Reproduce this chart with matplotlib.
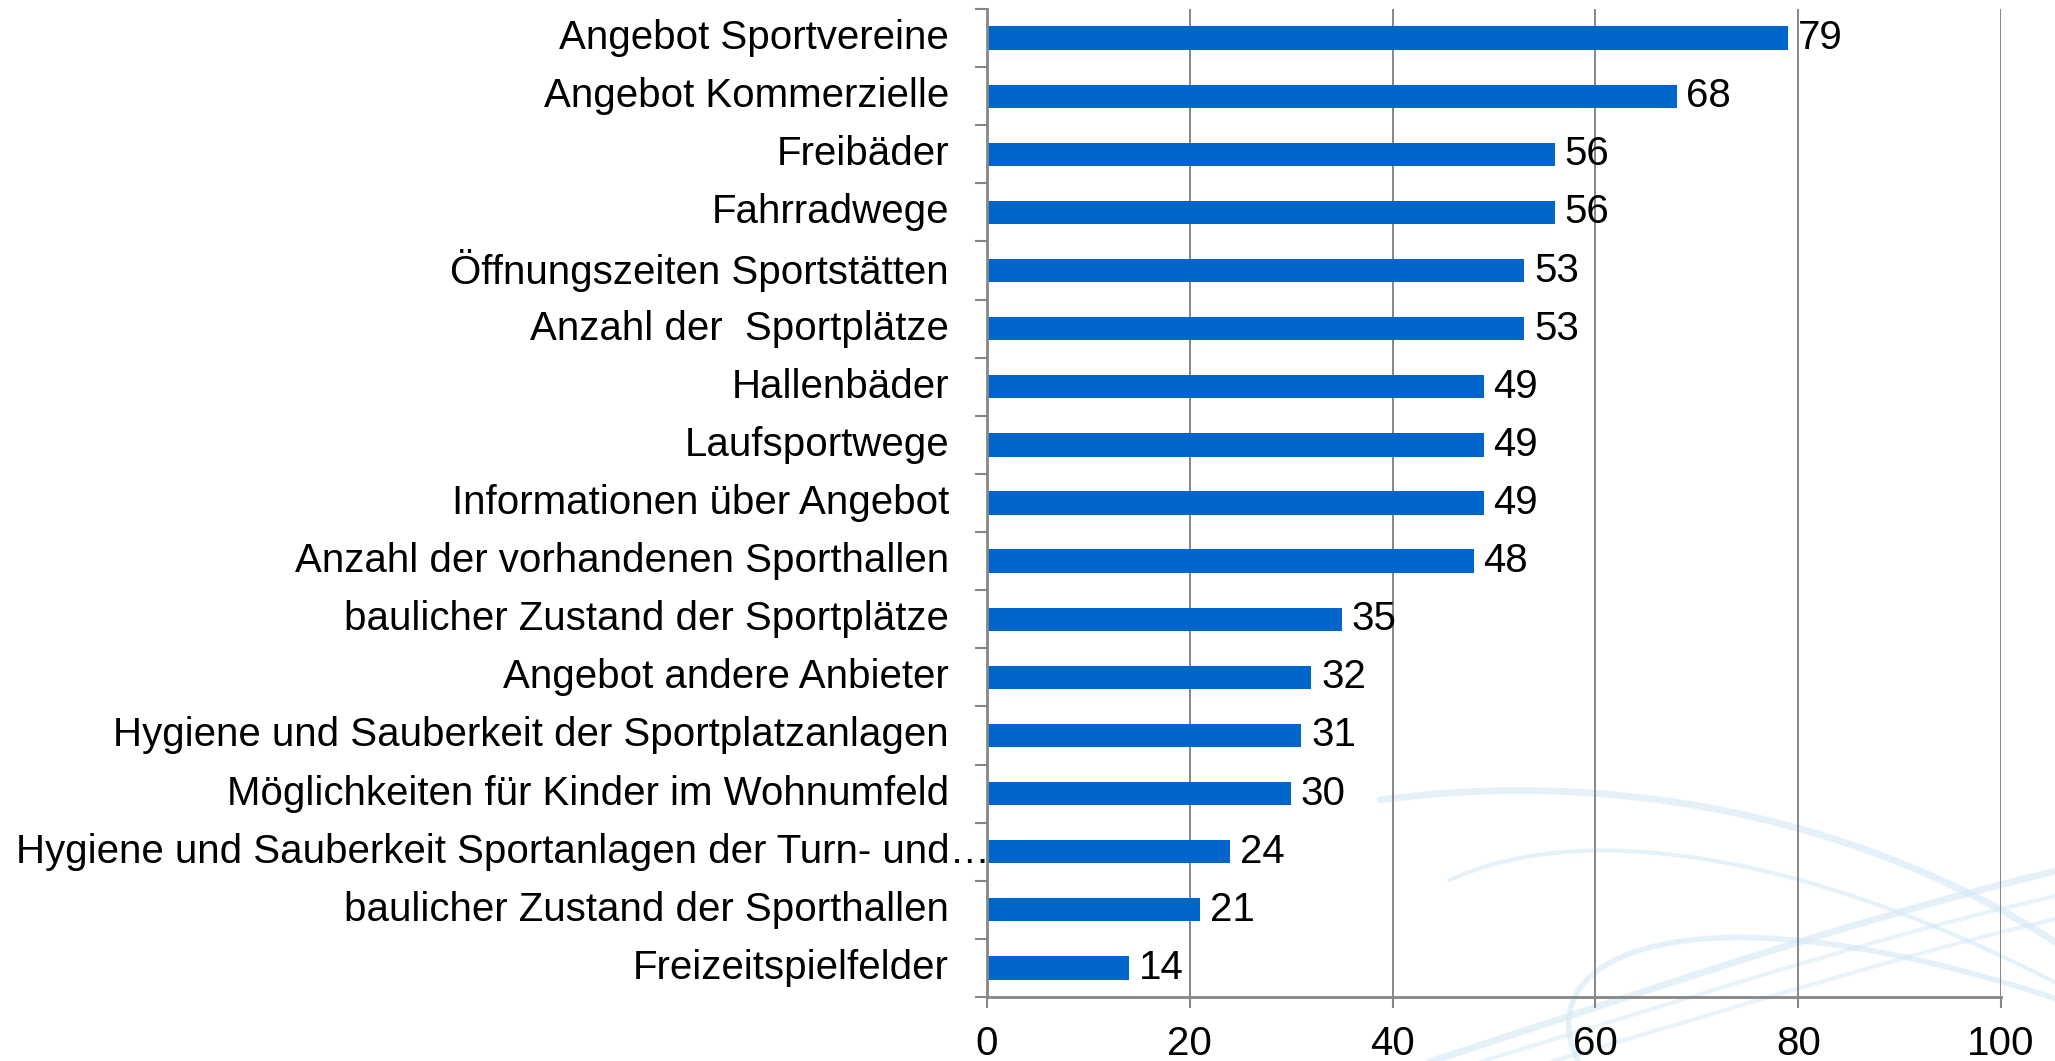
import numpy as np
import matplotlib.pyplot as plt
from matplotlib.ticker import FixedLocator

plt.rcParams['font.family'] = ['Liberation Sans', 'DejaVu Sans']

# Daten
kategorien = [
    "Angebot Sportvereine",
    "Angebot Kommerzielle",
    "Freibäder",
    "Fahrradwege",
    "Öffnungszeiten Sportstätten",
    "Anzahl der  Sportplätze",
    "Hallenbäder",
    "Laufsportwege",
    "Informationen über Angebot",
    "Anzahl der vorhandenen Sporthallen",
    "baulicher Zustand der Sportplätze",
    "Angebot andere Anbieter",
    "Hygiene und Sauberkeit der Sportplatzanlagen",
    "Möglichkeiten für Kinder im Wohnumfeld",
    "Hygiene und Sauberkeit Sportanlagen der Turn- und…",
    "baulicher Zustand der Sporthallen",
    "Freizeitspielfelder",
]
werte = [79, 68, 56, 56, 53, 53, 49, 49, 49, 48, 35, 32, 31, 30, 24, 21, 14]
x_ticks = [0, 20, 40, 60, 80, 100]

W, H = 2055, 1061
FS = 29
fig = plt.figure(figsize=(W / 100, H / 100), dpi=100)

# dekorative Hintergrund-Schwünge
bg = fig.add_axes([0, 0, 1, 1], zorder=-1)
bg.set_xlim(0, W)
bg.set_ylim(H, 0)
bg.axis('off')


def bez(p0, p1, p2, p3):
    t = np.linspace(0, 1, 200)[:, None]
    p0, p1, p2, p3 = map(np.array, (p0, p1, p2, p3))
    pts = (1 - t) ** 3 * p0 + 3 * (1 - t) ** 2 * t * p1 + 3 * (1 - t) * t ** 2 * p2 + t ** 3 * p3
    return pts[:, 0], pts[:, 1]


swoosh = "#d3e8f6"
for ctrl, lw, a in [
    (((1380, 800), (1600, 770), (1850, 810), (2060, 945)), 5, 0.6),
    (((1450, 880), (1580, 820), (1800, 850), (2060, 985)), 3, 0.55),
    (((1580, 1065), (1520, 950), (1700, 880), (2060, 1000)), 4, 0.6),
    (((1420, 1065), (1650, 990), (1850, 920), (2060, 870)), 5, 0.6),
    (((1470, 1065), (1700, 995), (1880, 935), (2060, 895)), 3, 0.5),
    (((1540, 1065), (1760, 1000), (1920, 950), (2060, 918)), 3, 0.5),
]:
    x, y = bez(*ctrl)
    bg.plot(x, y, color=swoosh, lw=lw, alpha=a, solid_capstyle='round')

ax = fig.add_axes([987 / W, 64 / H, (2001 - 987) / W, (997 - 9) / H])
ax.patch.set_alpha(0)

grau = "#868686"
n = len(kategorien)
pos = np.arange(n)
ax.barh(pos, werte, height=0.4, color="#0066CC", zorder=3)

ax.set_xlim(0, 100)
ax.set_ylim(n - 0.5, -0.5)
ax.set_xticks(x_ticks)
ax.set_xticklabels([str(v) for v in x_ticks], fontsize=FS)
ax.tick_params(axis='x', direction='out', length=8, width=1.5, color=grau, pad=12)

ax.set_yticks([])
ax.yaxis.set_minor_locator(FixedLocator(np.arange(n + 1) - 0.5))
ax.tick_params(axis='y', which='minor', direction='out', length=8.6, width=1.5, color=grau)

for v in x_ticks[1:]:
    ax.axvline(v, color=grau, lw=1.4, zorder=1)

for s in ['top', 'right']:
    ax.spines[s].set_visible(False)
for s in ['left', 'bottom']:
    ax.spines[s].set_color(grau)
    ax.spines[s].set_linewidth(2)
    ax.spines[s].set_zorder(4)

trans = ax.get_yaxis_transform()
for i, (k, v) in enumerate(zip(kategorien, werte)):
    off = -38 if not k.endswith("…") else 3
    ax.annotate(k, xy=(0, i), xycoords=trans, xytext=(off * 0.72, 0),
                textcoords='offset points', ha='right', va='center', fontsize=FS)
    ax.annotate(str(v), xy=(v, i), xytext=(7, 0), textcoords='offset points',
                ha='left', va='center', fontsize=FS, zorder=5)

fig.savefig("out.png", dpi=100)
